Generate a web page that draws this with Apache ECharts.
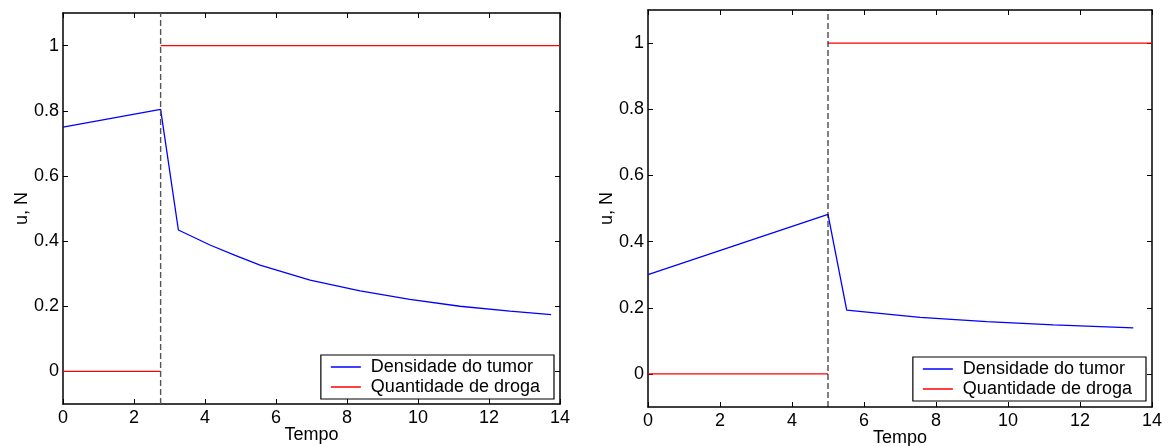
<!DOCTYPE html>
<html>
<head>
<meta charset="utf-8">
<script src="https://cdn.jsdelivr.net/npm/echarts@6/dist/echarts.min.js"></script>
<style>
  html, body { margin: 0; padding: 0; background: #fff; }
  #main { width: 1168px; height: 446px; }
</style>
</head>
<body>
<div id="main"></div>
<script>
// valores
const xTicks = [0, 2, 4, 6, 8, 10, 12, 14];
const yTicks = [0, 0.2, 0.4, 0.6, 0.8, 1];

// painel esquerdo
const tempoTumor1 = [0, 2.75, 3.25, 4.14, 4.85, 5.55, 6.96, 8.37, 9.77, 11.18, 12.59, 13.75];
const densidade1 = [0.75, 0.804, 0.434, 0.388, 0.356, 0.326, 0.280, 0.247, 0.221, 0.200, 0.185, 0.174];
const inicioDroga1 = 2.75;

// painel direito
const tempoTumor2 = [0, 5, 5.52, 7.56, 9.41, 11.26, 13.48];
const densidade2 = [0.3, 0.482, 0.193, 0.171, 0.158, 0.148, 0.139];
const inicioDroga2 = 5;

const tMax = 14;
const droga = [0, 1]; // antes / depois

const font = 'Liberation Sans, Helvetica, Arial, sans-serif';
const fs = 18;
const zip = (a, b) => a.map((v, i) => [v, b[i]]);

function eixoX(gi, show) {
    return {
        gridIndex: gi, type: 'value', min: 0, max: 14, interval: 2,
        position: show ? 'bottom' : 'top',
        name: show ? 'Tempo' : '', nameLocation: 'middle', nameGap: 22, nameMoveOverlap: false,
        nameTextStyle: { color: '#000', fontSize: fs, fontFamily: font },
        axisLine: { onZero: false, lineStyle: { color: '#000', width: 1.5 } },
        axisTick: { inside: true, length: 5, customValues: xTicks, lineStyle: { color: '#000' } },
        axisLabel: { show: show, customValues: xTicks, color: '#000', fontSize: fs, fontFamily: font, margin: 5 },
        splitLine: { show: false }
    };
}
function eixoY(gi, show) {
    return {
        gridIndex: gi, type: 'value', min: -0.1, max: 1.1,
        position: show ? 'left' : 'right',
        name: show ? 'u, N' : '', nameLocation: 'middle', nameGap: 32, nameMoveOverlap: false,
        nameTextStyle: { color: '#000', fontSize: fs, fontFamily: font },
        axisLine: { onZero: false, lineStyle: { color: '#000', width: 1.5 } },
        axisTick: { inside: true, length: 5, customValues: yTicks, lineStyle: { color: '#000' } },
        axisLabel: { show: show, customValues: yTicks, color: '#000', fontSize: fs, fontFamily: font, margin: 4 },
        splitLine: { show: false }
    };
}
function legenda(right, bottom) {
    return {
        data: ['Densidade do tumor', 'Quantidade de droga'],
        orient: 'vertical', right: right, bottom: bottom,
        backgroundColor: '#fff', borderColor: '#000', borderWidth: 1.2,
        padding: [3, 14, 3, 10], itemGap: 2, itemWidth: 30, itemHeight: 1.5,
        icon: 'rect',
        textStyle: { color: '#000', fontSize: fs, fontFamily: font, padding: [0, 0, 0, 5] }
    };
}
function linha(nome, xi, data, cor, extra) {
    return Object.assign({
        name: nome, type: 'line', xAxisIndex: xi, yAxisIndex: xi, data: data,
        symbol: 'none', animation: false,
        lineStyle: { color: cor, width: 1.3 }, itemStyle: { color: cor }
    }, extra || {});
}

const chart = echarts.init(document.getElementById('main'));
chart.setOption({
    backgroundColor: '#fff',
    grid: [
        { left: 63, top: 13, right: 608, bottom: 42, outerBoundsMode: 'none' },
        { left: 648, top: 10, right: 16, bottom: 39, outerBoundsMode: 'none' }
    ],
    xAxis: [eixoX(0, true), eixoX(1, true), eixoX(0, false), eixoX(1, false)],
    yAxis: [eixoY(0, true), eixoY(1, true), eixoY(0, false), eixoY(1, false)],
    legend: [legenda(614, 47), legenda(22, 45)],
    series: [
        linha('Densidade do tumor', 0, zip(tempoTumor1, densidade1), '#0000ff'),
        linha('Quantidade de droga', 0, [[0, droga[0]], [inicioDroga1, droga[0]]], '#ff0000'),
        linha('Quantidade de droga', 0, [[inicioDroga1, droga[1]], [tMax, droga[1]]], '#ff0000'),
        linha('corte1', 0, [[inicioDroga1, -0.1], [inicioDroga1, 1.1]], '#555',
              { lineStyle: { color: '#555', width: 1.4, type: [6, 3] } }),
        linha('Densidade do tumor', 1, zip(tempoTumor2, densidade2), '#0000ff'),
        linha('Quantidade de droga', 1, [[0, droga[0]], [inicioDroga2, droga[0]]], '#ff0000'),
        linha('Quantidade de droga', 1, [[inicioDroga2, droga[1]], [tMax, droga[1]]], '#ff0000'),
        linha('corte2', 1, [[inicioDroga2, -0.1], [inicioDroga2, 1.1]], '#000',
              { lineStyle: { color: '#000', width: 1, type: [6, 3] } })
    ]
});
</script>
</body>
</html>
